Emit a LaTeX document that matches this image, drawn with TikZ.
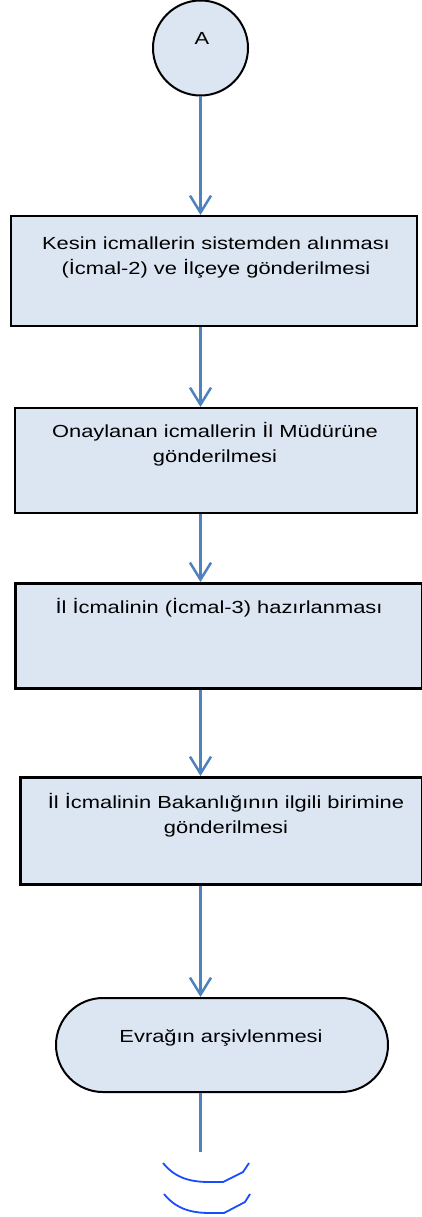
\documentclass[tikz,border=0pt]{standalone}
\usepackage{fontspec}
\setmainfont{Liberation Sans}[FakeStretch=1.25]
\usetikzlibrary{arrows.meta,calc}
\definecolor{boxfill}{RGB}{220,230,242}
\definecolor{arrowblue}{RGB}{79,129,189}
\definecolor{curveblue}{RGB}{25,75,255}
\tikzset{
  box/.style={draw=black, line width=2pt, fill=boxfill, rectangle, anchor=north west, inner sep=0pt},
  txt/.style={font=\fontsize{17.5}{25}\selectfont, align=center, anchor=base, inner sep=0pt},
  flow/.style={draw=arrowblue, line width=2.5pt, -{Straight Barb[length=17pt,width=21pt]}},
  plainflow/.style={draw=arrowblue, line width=2.3pt},
  cut/.style={draw=curveblue, line width=1.8pt},
}
\begin{document}
\begin{tikzpicture}[x=1pt,y=1pt]
\useasboundingbox (0,0) rectangle (422,-1217);
% start connector
\node[circle, draw=black, line width=2pt, fill=boxfill, minimum size=95pt, inner sep=0pt] (A) at (200.5,-48) {};
\node[txt] (tA) at (202,-45) {A};
% boxes
\node[box, minimum width=406pt, minimum height=110pt] (b1) at (10,-215) {};
\node[txt] (t1) at (216,-274) {Kesin icmallerin sistemden alınması\\(İcmal-2) ve İlçeye gönderilmesi};
\node[box, minimum width=402pt, minimum height=105pt] (b2) at (14,-407) {};
\node[txt] (t2) at (215,-462) {Onaylanan icmallerin İl Müdürüne\\gönderilmesi};
\node[box, line width=2.5pt, minimum width=407pt, minimum height=105pt] (b3) at (14,-582) {};
\node[txt] (t3) at (219,-613) {İl İcmalinin (İcmal-3) hazırlanması};
\node[box, line width=2.5pt, minimum width=402pt, minimum height=107pt] (b4) at (19,-776) {};
\node[txt] (t4) at (226,-833) {İl İcmalinin Bakanlığının ilgili birimine\\gönderilmesi};
\node[box, rounded corners=47pt, minimum width=332pt, minimum height=94pt] (e) at (55,-997) {};
\node[txt] (te) at (221,-1042) {Evrağın arşivlenmesi};
% connectors
\draw[flow] (A.south) -- (A.south |- b1.north);
\draw[flow] (b1.south -| A.south) -- (b2.north -| A.south);
\draw[flow] (b2.south -| A.south) -- (b3.north -| A.south);
\draw[flow] (b3.south -| A.south) -- (b4.north -| A.south);
\draw[flow] (b4.south -| A.south) -- (e.north -| A.south);
\coordinate (end) at (200.5,-1152);
\draw[plainflow] (e.south -| A.south) -- (end);
% off-page break marks
\draw[cut] (163,-1163) .. controls (176,-1179) and (192,-1182) .. (210,-1182) -- (223,-1182) -- (243,-1172) -- (249,-1163);
\draw[cut] (164,-1194) .. controls (177,-1210) and (193,-1213) .. (211,-1213) -- (224,-1213) -- (245,-1202) -- (250,-1194);
\end{tikzpicture}
\end{document}
